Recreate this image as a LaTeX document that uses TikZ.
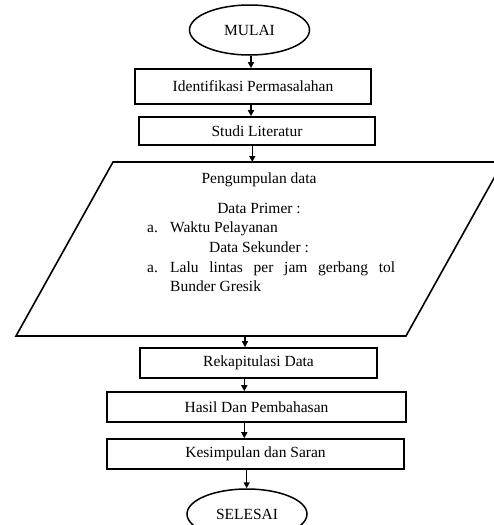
\documentclass[tikz,border=0pt]{standalone}
\usepackage{fontspec}
\setmainfont{Liberation Serif}
\usetikzlibrary{shapes.geometric,arrows.meta}
\begin{document}
\begin{tikzpicture}[x=1pt,y=-1pt,
  every node/.style={font=\fontsize{15.5}{19.5}\selectfont, inner sep=0pt},
  procbox/.style={draw, line width=1.6pt, minimum width=#1, align=center},
  term/.style={draw, ellipse, line width=1.5pt, minimum width=120, minimum height=50},
  arr/.style={line width=1.4pt, -{Triangle[length=6pt,width=6pt]}},
  line/.style={line width=1.6pt},
  txt/.style={anchor=base}]
\useasboundingbox (0,0) rectangle (494,525);
\clip (0,0) rectangle (494,525);

% terminals and process boxes
\node[term] (start) at (249.5,30) {MULAI};
\node[procbox=236, minimum height=35] (ident) at (253,86.5) {Identifikasi Permasalahan};
\node[procbox=236, minimum height=28] (studi) at (257,131) {Studi Literatur};
\node[procbox=237, minimum height=30] (rekap) at (258.5,363) {Rekapitulasi Data};
\node[procbox=299, minimum height=30] (hasil) at (256.5,407) {Hasil Dan Pembahasan};
\node[procbox=297, minimum height=30] (simp) at (255.5,454) {Kesimpulan dan Saran};
\node[term] (end) at (247,514) {SELESAI};

% data-collection parallelogram
\coordinate (tl) at (113,162);
\coordinate (tr) at (503,162);
\coordinate (br) at (406,336);
\coordinate (bl) at (16,336);
\draw[line, line join=miter] (tl) -- (tr) -- (br) -- (bl) -- cycle;

\node[txt] (pj) at (259,183) {Pengumpulan data};
\node[txt] (dp) at (259,213) {Data Primer :};
\node[txt, anchor=base west] (a1) at (147,232) {a.};
\node[txt, anchor=base west] (w1) at (170,232) {Waktu Pelayanan};
\node[txt] (ds) at (259,252) {Data Sekunder :};
\node[txt, anchor=base west] (a2) at (147,272) {a.};
\node[txt, anchor=base west] (l1) at (170,272)
  {\parbox[t]{225pt}{\fontsize{15.5}{19}\selectfont Lalu lintas per jam gerbang tol\linebreak Bunder Gresik}};

% connector columns
\coordinate (c1) at (251,0);
\coordinate (c2) at (252.3,0);
\coordinate (c3) at (245,0);
\coordinate (c4) at (244.3,0);
\coordinate (c5) at (246.7,0);
\coordinate (ptop) at (252.3,162);
\coordinate (pbot) at (245,336);

\draw[arr] (start.south -| c1) -- (ident.north -| c1);
\draw[arr] (ident.south -| c1) -- (studi.north -| c1);
\draw[arr] (studi.south -| c2) -- (ptop);
\draw[arr] (pbot) -- (rekap.north -| c3);
\draw[arr] (rekap.south -| c4) -- (hasil.north -| c4);
\draw[arr] (hasil.south -| c4) -- (simp.north -| c4);
\draw[arr] (simp.south -| c5) -- (end.north -| c5);
\end{tikzpicture}
\end{document}
